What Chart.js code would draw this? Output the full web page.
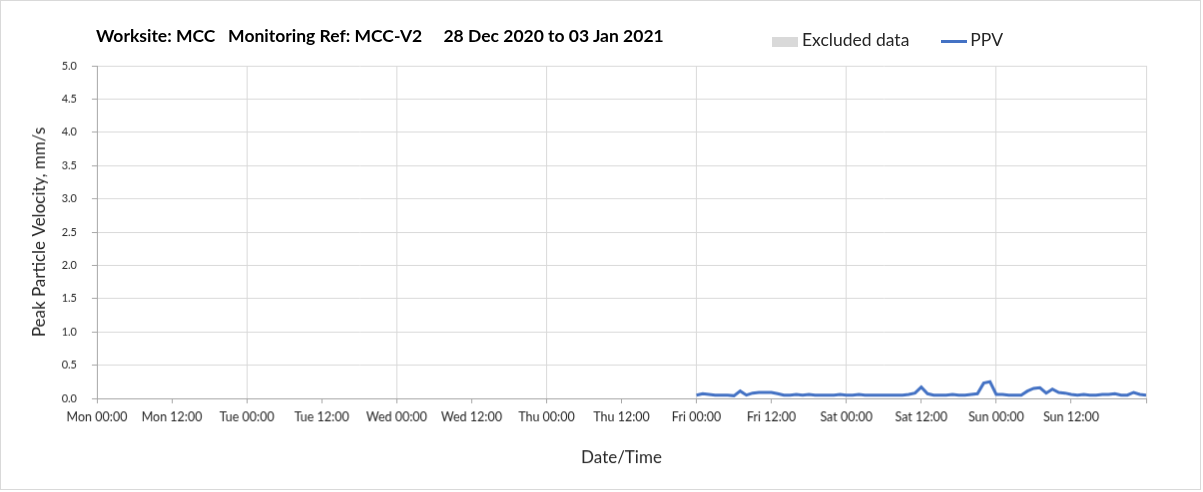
<!DOCTYPE html>
<html>
<head>
<meta charset="utf-8">
<script src="https://cdn.jsdelivr.net/npm/chart.js@4.4.0/dist/chart.umd.min.js"></script>
<style>
  body { margin: 0; background: #fff; font-family: Lato, "Open Sans", sans-serif; }
  #wrap { position: relative; width: 1203px; height: 492px; }
  #myChart { position: absolute; left: 0; top: 0; border: 1px solid #d9d9d9; }
  #title { position: absolute; left: 96px; top: 25px; font-size: 17.5px; font-weight: bold; color: #000; white-space: pre; }
  #legend { position: absolute; left: 772px; top: 29px; font-size: 17.5px; color: #262626; white-space: pre; }
  .box { display: inline-block; width: 26px; height: 10px; background: #d9d9d9; vertical-align: middle; margin-right: 4px; }
  .ln { display: inline-block; width: 26px; height: 3px; background: #4472c4; vertical-align: middle; margin-left: 32px; margin-right: 3px; }
</style>
</head>
<body>
<div id="wrap">
  <canvas id="myChart" width="1201" height="490"></canvas>
  <div id="title">Worksite: MCC   Monitoring Ref: MCC-V2     28 Dec 2020 to 03 Jan 2021</div>
  <div id="legend"><span class="box"></span>Excluded data<span class="ln"></span>PPV</div>
</div>
<script>
// hours since Mon 00:00
const hours = [96, 97, 98, 99, 100, 101, 102, 103, 104, 105, 106, 107, 108, 109, 110, 111, 112, 113, 114, 115,
  116, 117, 118, 119, 120, 121, 122, 123, 124, 125, 126, 127, 128, 129, 130, 131, 132, 133, 134, 135,
  136, 137, 138, 139, 140, 141, 142, 143, 144, 145, 146, 147, 148, 149, 150, 151, 152, 153, 154, 155,
  156, 157, 158, 159, 160, 161, 162, 163, 164, 165, 166, 167, 168];
const ppv = [0.05, 0.07, 0.06, 0.05, 0.05, 0.05, 0.04, 0.11, 0.05, 0.08, 0.09, 0.09, 0.09, 0.07, 0.05, 0.05, 0.06, 0.05, 0.06, 0.05,
  0.05, 0.05, 0.05, 0.06, 0.05, 0.05, 0.06, 0.05, 0.05, 0.05, 0.05, 0.05, 0.05, 0.05, 0.06, 0.08, 0.17, 0.07, 0.05, 0.05,
  0.05, 0.06, 0.05, 0.05, 0.06, 0.07, 0.23, 0.25, 0.06, 0.06, 0.05, 0.05, 0.05, 0.11, 0.15, 0.16, 0.08, 0.14, 0.09, 0.08,
  0.06, 0.05, 0.06, 0.05, 0.05, 0.06, 0.06, 0.07, 0.05, 0.05, 0.09, 0.06, 0.05];
const excluded = [];
const tickLabels = ["Mon 00:00", "Mon 12:00", "Tue 00:00", "Tue 12:00", "Wed 00:00", "Wed 12:00", "Thu 00:00",
  "Thu 12:00", "Fri 00:00", "Fri 12:00", "Sat 00:00", "Sat 12:00", "Sun 00:00", "Sun 12:00", ""];

function renderChart() {
  const ctx = document.getElementById("myChart");
  const points = [];
  for (let i = 0; i < hours.length; i++) {
    points.push({ x: hours[i], y: ppv[i] });
  }

  new Chart(ctx, {
    type: "line",
    data: {
      datasets: [
        {
          type: "bar",
          label: "Excluded data",
          data: excluded,
          backgroundColor: "#d9d9d9",
        },
        {
          label: "PPV",
          data: points,
          borderColor: "#4472c4",
          borderWidth: 3,
          pointRadius: 0,
          tension: 0,
        },
      ],
    },
    options: {
      responsive: false,
      animation: false,
      layout: { padding: { left: 24, top: 65, right: 54, bottom: 17 } },
      plugins: { legend: { display: false }, tooltip: { enabled: false } },
      scales: {
        x: {
          type: "linear",
          min: 0,
          max: 168,
          offset: false,
          afterBuildTicks: (s) => {
            s.ticks = tickLabels.map((t, i) => ({ value: i * 12 }));
          },
          afterFit: (s) => { s.height = 74; },
          ticks: {
            autoSkip: false,
            maxRotation: 0,
            padding: 6,
            color: "#262626",
            font: { family: "Lato", size: 12.5 },
            callback: (v, i) => tickLabels[i],
          },
          grid: {
            offset: false,
            color: (c) => (c.tick && c.tick.value % 24 === 0 ? "#d9d9d9" : "rgba(0,0,0,0)"),
            tickColor: "#a6a6a6",
            tickLength: 5,
          },
          border: { color: "#a6a6a6" },
          title: {
            display: true,
            text: "Date/Time",
            color: "#262626",
            font: { family: "Lato", size: 17 },
          },
        },
        y: {
          min: 0,
          max: 5,
          afterFit: (s) => { s.width = 72; },
          ticks: {
            stepSize: 0.5,
            padding: 15,
            color: "#262626",
            font: { family: "Lato", size: 11 },
            callback: (v) => v.toFixed(1),
          },
          grid: { color: "#d9d9d9", tickColor: "#a6a6a6", tickLength: 5 },
          border: { color: "#a6a6a6" },
          title: {
            display: true,
            text: "Peak Particle Velocity, mm/s",
            color: "#262626",
            font: { family: "Lato", size: 17 },
          },
        },
      },
    },
  });
}

renderChart();
</script>
</body>
</html>
